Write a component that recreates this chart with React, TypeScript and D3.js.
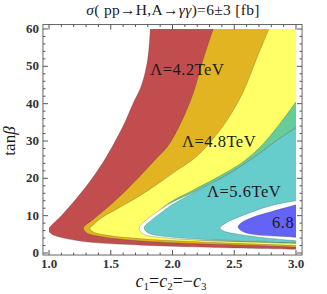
import React from 'react';
import * as d3 from 'd3';

type Pt = [number, number];

// contour boundaries: [c, tanβ], upper branch -> nose -> lower branch
const redEdge: Pt[] = [[1.82, 60], [1.80, 52], [1.75, 45], [1.68, 40], [1.60, 34], [1.46, 25.5], [1.35, 20], [1.22, 14.5], [1.10, 10], [1.02, 7.4], [0.995, 6.2], [1.02, 5.1], [1.12, 4.0], [1.3, 3.0], [1.55, 2.4], [1.75, 2.1], [2.0, 1.8], [2.5, 1.35], [3.0, 1.0]];
const orangeEdge: Pt[] = [[2.33, 60], [2.25, 52], [2.17, 43], [2.07, 35], [1.96, 28.5], [1.86, 25], [1.72, 20], [1.60, 16], [1.45, 11.5], [1.35, 8.8], [1.28, 6.8], [1.30, 5.5], [1.42, 4.4], [1.6, 3.6], [1.8, 3.1], [2.2, 2.5], [2.6, 2.1], [3.0, 1.6]];
const yellowEdge: Pt[] = [[2.78, 60], [2.68, 52], [2.57, 43], [2.45, 36], [2.34, 31], [2.19, 25.7], [2.03, 22], [1.88, 18.5], [1.72, 15], [1.56, 12], [1.43, 9.5], [1.36, 7.6], [1.33, 6.6], [1.36, 5.6], [1.5, 4.6], [1.75, 3.8], [2.06, 3.2], [2.5, 2.6], [3.0, 2.0]];
const greenEdge: Pt[] = [[3.0, 40.5], [2.85, 33.8], [2.71, 28.4], [2.57, 24.4], [2.44, 21.7], [2.17, 16.9], [1.98, 13.6], [1.88, 11.0], [1.80, 8.4], [1.76, 6.8], [1.80, 5.3], [1.95, 4.3], [2.22, 3.45], [2.6, 2.95], [3.0, 2.55]];
const ringEdge: Pt[] = [[3.0, 33.5], [2.85, 30.3], [2.71, 26.8], [2.57, 23.6], [2.44, 20.9], [2.17, 16.3], [1.98, 13.3], [1.87, 10.9], [1.775, 8.5], [1.73, 6.7], [1.76, 5.1], [1.93, 4.1], [2.21, 3.45], [2.6, 3.15], [3.0, 2.8]];
const cyanEdge: Pt[] = [[3.0, 33.5], [2.85, 30.3], [2.71, 26.8], [2.57, 23.6], [2.44, 20.9], [2.17, 16.1], [2.0, 13.0], [1.9, 10.6], [1.815, 8.4], [1.77, 6.8], [1.80, 5.4], [1.95, 4.4], [2.22, 3.7], [2.6, 3.25], [3.0, 2.85]];
const gapEdge: Pt[] = [[3.0, 14.0], [2.79, 12.6], [2.52, 9.4], [2.42, 7.8], [2.385, 6.7], [2.42, 5.8], [2.52, 5.1], [2.79, 3.9], [3.0, 3.3]];
const blueEdge: Pt[] = [[3.0, 12.9], [2.79, 11.0], [2.65, 9.6], [2.56, 8.2], [2.53, 7.0], [2.56, 5.9], [2.65, 5.0], [2.93, 4.35], [3.0, 4.2]];

const layers = [
  { edge: redEdge, fill: '#c24d4f' },
  { edge: orangeEdge, fill: '#e3b422' },
  { edge: yellowEdge, fill: '#ffff66' },
  { edge: greenEdge, fill: '#66cc99' },
  { edge: ringEdge, fill: '#ffffff' },
  { edge: cyanEdge, fill: '#66cccc' },
  { edge: gapEdge, fill: '#ffffff' },
  { edge: blueEdge, fill: '#6363f5' },
];

const bandLabels = [
  { text: 'Λ=4.2TeV', c: 1.82, t: 47.7 },
  { text: 'Λ=4.8TeV', c: 2.077, t: 28.4 },
  { text: 'Λ=5.6TeV', c: 2.28, t: 15 },
  { text: '6.8', c: 2.806, t: 6.7 },
];

const xTicks = [1.0, 1.5, 2.0, 2.5, 3.0];
const xTickLabels = ['1.0', '1.5', '2.0', '2.5', '3.0'];
const yTicks = [0, 10, 20, 30, 40, 50, 60];
const yTickLabels = ['0', '10', '20', '30', '40', '50', '60'];

const W = 327;
const H = 294;
const serif = 'Liberation Serif';

export default function App() {
  const x = d3.scaleLinear().domain([1, 3]).range([49, 296]);
  const y = d3.scaleLinear().domain([0, 60]).range([253, 29]);

  const frame = { l: x(0.951), r: x(3.049), t: y(61.2), b: y(-0.54) };

  const line = d3.line<Pt>().x(d => x(d[0])).y(d => y(d[1])).curve(d3.curveCatmullRom.alpha(0.5));

  const layerPath = (edge: Pt[]) => {
    const first = edge[0];
    const last = edge[edge.length - 1];
    const atTop = first[1] >= 60;
    let d = line(edge) || '';
    d += `L${x(3.1)},${y(last[1])}`;
    if (atTop) {
      d += `L${x(3.1)},${y(62)}L${x(first[0])},${y(62)}Z`;
    } else {
      d += `L${x(3.1)},${y(first[1])}Z`;
    }
    return d;
  };

  const xMinor = d3.range(10, 31).map(v => v / 10).filter(v => Math.abs(v * 2 - Math.round(v * 2)) > 1e-6);
  const yMinor = d3.range(0, 61, 2).filter(v => v % 10 !== 0);

  return (
    <svg width={W} height={H} style={{ position: 'absolute', left: 0, top: 0, background: '#fff' }}>
      <defs>
        <clipPath id="plotArea">
          <rect x={x(1)} y={y(60)} width={x(3) - x(1)} height={y(0) - y(60)} />
        </clipPath>
      </defs>

      <g clipPath="url(#plotArea)">
        {layers.map((l, i) => (
          <path key={i} d={layerPath(l.edge)} fill={l.fill} stroke="rgba(60,60,60,0.45)" strokeWidth={0.6} />
        ))}
      </g>

      {bandLabels.map(l => (
        <text key={l.text} x={x(l.c)} y={y(l.t)} fontFamily={serif} fontSize={16.5} letterSpacing={0.5} fill="#1a1a1a">
          {l.text}
        </text>
      ))}

      <rect x={frame.l} y={frame.t} width={frame.r - frame.l} height={frame.b - frame.t} fill="none" stroke="#666" strokeWidth={1} />

      {xTicks.map(v => (
        <g key={'xm' + v}>
          <line x1={x(v)} x2={x(v)} y1={frame.b} y2={frame.b - 5} stroke="#555" />
          <line x1={x(v)} x2={x(v)} y1={frame.t} y2={frame.t + 5} stroke="#555" />
        </g>
      ))}
      {xMinor.map(v => (
        <g key={'xn' + v}>
          <line x1={x(v)} x2={x(v)} y1={frame.b} y2={frame.b - 2.5} stroke="#555" />
          <line x1={x(v)} x2={x(v)} y1={frame.t} y2={frame.t + 2.5} stroke="#555" />
        </g>
      ))}
      {yTicks.map(v => (
        <g key={'ym' + v}>
          <line x1={frame.l} x2={frame.l + 5} y1={y(v)} y2={y(v)} stroke="#555" />
          <line x1={frame.r} x2={frame.r - 5} y1={y(v)} y2={y(v)} stroke="#555" />
        </g>
      ))}
      {yMinor.map(v => (
        <g key={'yn' + v}>
          <line x1={frame.l} x2={frame.l + 2.5} y1={y(v)} y2={y(v)} stroke="#555" />
          <line x1={frame.r} x2={frame.r - 2.5} y1={y(v)} y2={y(v)} stroke="#555" />
        </g>
      ))}

      {xTicks.map((v, i) => (
        <text key={'xl' + v} x={x(v)} y={268} textAnchor="middle" fontFamily={serif} fontSize={13} fontWeight="bold" fill="#333">
          {xTickLabels[i]}
        </text>
      ))}
      {yTicks.map((v, i) => (
        <text key={'yl' + v} x={39} y={y(v) + 4} textAnchor="end" fontFamily={serif} fontSize={13} fontWeight="bold" fill="#333">
          {yTickLabels[i]}
        </text>
      ))}

      <text x={173} y={15} textAnchor="middle" fontFamily={serif} fontSize={15.5} letterSpacing={0.3} fill="#1a1a1a">
        <tspan fontStyle="italic">σ</tspan>( pp→H,A→<tspan fontStyle="italic">γγ</tspan>)=6±3 [fb]
      </text>

      <text x={171} y={287} textAnchor="middle" fontFamily={serif} fontSize={18} fill="#1a1a1a">
        <tspan fontStyle="italic">c</tspan>
        <tspan fontSize={11} dy={3}>1</tspan>
        <tspan dy={-3}>=</tspan>
        <tspan fontStyle="italic">c</tspan>
        <tspan fontSize={11} dy={3}>2</tspan>
        <tspan dy={-3}>=−</tspan>
        <tspan fontStyle="italic">c</tspan>
        <tspan fontSize={11} dy={3}>3</tspan>
      </text>

      <text transform={`translate(15,${(y(0) + y(60)) / 2}) rotate(-90)`} textAnchor="middle" fontFamily={serif} fontSize={17} fill="#1a1a1a">
        tan<tspan fontStyle="italic">β</tspan>
      </text>
    </svg>
  );
}
